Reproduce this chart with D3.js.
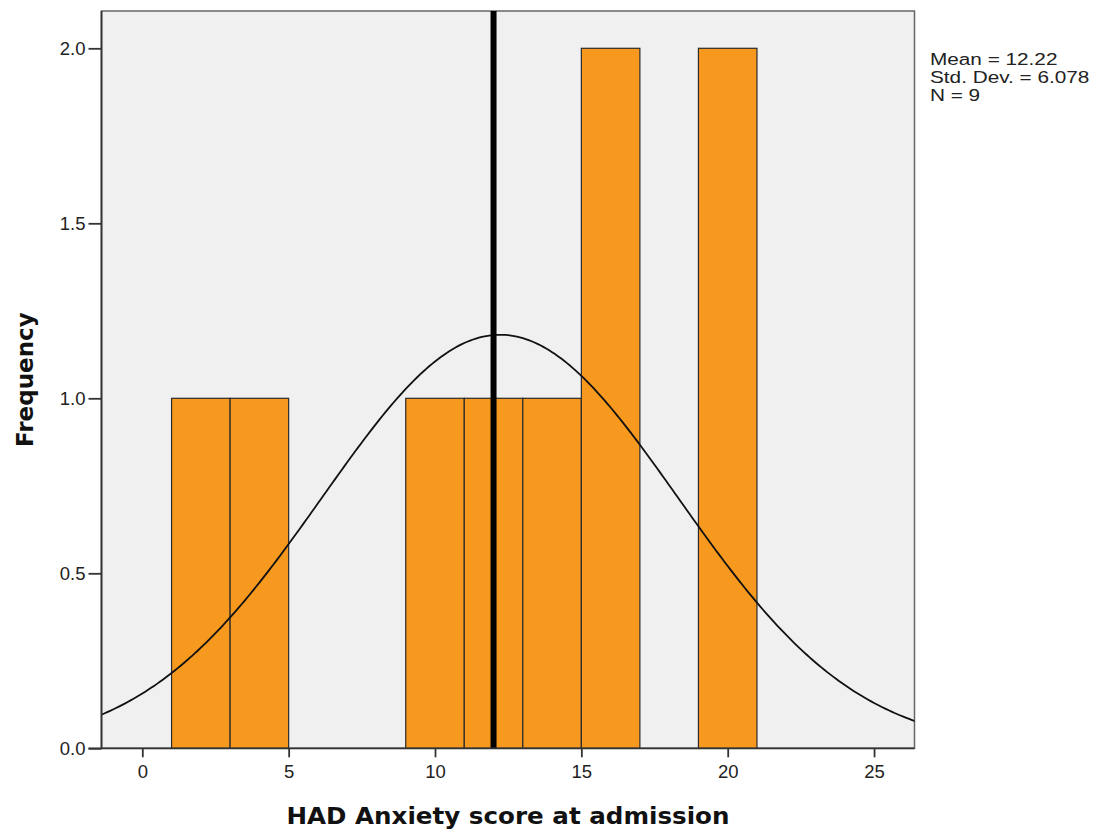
<!DOCTYPE html>
<html>
<head>
<meta charset="utf-8">
<script src="https://cdn.jsdelivr.net/npm/d3@7"></script>
<style>
  body { margin: 0; background: #fff; }
</style>
</head>
<body>
<div id="chart"></div>
<script>
// bins of 2 score points: [x0, x1), count
const binStarts = [1, 3, 9, 11, 13, 15, 19];
const binEnds = [3, 5, 11, 13, 15, 17, 21];
const binCounts = [1, 1, 1, 1, 1, 2, 2];
const xTicks = [0, 5, 10, 15, 20, 25];
const yTicks = [0, 0.5, 1.0, 1.5, 2.0];
const statLines = ["Mean = 12.22", "Std. Dev. = 6.078", "N = 9"];
const mean = 12.22;
const sd = 6.078;
const n = 9;
const binWidth = 2;
const refLine = 12;

const width = 1100;
const height = 834;
const plot = { left: 101.5, right: 914.5, top: 11, bottom: 748.3 };

const svg = d3.select("#chart")
    .append("svg")
    .attr("width", width)
    .attr("height", height);

const x = d3.scaleLinear().domain([0, 25]).range([142.3, 142.3 + 25 * 29.27]);
const y = d3.scaleLinear().domain([0, 2]).range([plot.bottom, plot.bottom - 700]);

svg.append("defs").append("clipPath").attr("id", "clip")
    .append("rect")
    .attr("x", plot.left).attr("y", plot.top)
    .attr("width", plot.right - plot.left).attr("height", plot.bottom - plot.top);

svg.append("rect")
    .attr("x", plot.left).attr("y", plot.top)
    .attr("width", plot.right - plot.left).attr("height", plot.bottom - plot.top)
    .attr("fill", "#f0f0f0")
    .attr("stroke", "#666")
    .attr("stroke-width", 1.5);

const bins = binStarts.map((s, i) => ({ x0: s, x1: binEnds[i], count: binCounts[i] }));

svg.append("g").selectAll("rect")
    .data(bins)
    .join("rect")
    .attr("x", d => x(d.x0))
    .attr("y", d => y(d.count))
    .attr("width", d => x(d.x1) - x(d.x0))
    .attr("height", d => y(0) - y(d.count))
    .attr("fill", "#f7981f")
    .attr("stroke", "#2b2b2b")
    .attr("stroke-width", 1.2);

// fitted normal curve
const curvePts = d3.range(-2, 27.01, 0.1).map(v => [v,
    n * binWidth * Math.exp(-0.5 * ((v - mean) / sd) ** 2) / (sd * Math.sqrt(2 * Math.PI))]);

svg.append("path")
    .attr("clip-path", "url(#clip)")
    .attr("d", d3.line().x(d => x(d[0])).y(d => y(d[1]))(curvePts))
    .attr("fill", "none")
    .attr("stroke", "#111")
    .attr("stroke-width", 1.8);

svg.append("line")
    .attr("x1", x(refLine)).attr("x2", x(refLine))
    .attr("y1", plot.top).attr("y2", plot.bottom)
    .attr("stroke", "#000")
    .attr("stroke-width", 6);

// axes
const xAxis = svg.append("g")
    .attr("transform", `translate(0,${plot.bottom})`)
    .call(d3.axisBottom(x).tickValues(xTicks).tickSize(9).tickPadding(8).tickFormat(d3.format("d")));
const yAxis = svg.append("g")
    .attr("transform", `translate(${plot.left},0)`)
    .call(d3.axisLeft(y).tickValues(yTicks).tickSize(13).tickPadding(3).tickFormat(d3.format(".1f")));

[xAxis, yAxis].forEach(a => {
    a.select(".domain").remove();
    a.selectAll("line").attr("stroke", "#333").attr("stroke-width", 1.8);
    a.selectAll("text")
        .attr("font-family", "Liberation Sans, Arial, sans-serif")
        .attr("font-size", 18.5)
        .attr("fill", "#222");
});

svg.append("line")
    .attr("x1", plot.left - 13).attr("x2", plot.right)
    .attr("y1", plot.bottom).attr("y2", plot.bottom)
    .attr("stroke", "#333").attr("stroke-width", 1.8);
svg.append("line")
    .attr("x1", plot.left).attr("x2", plot.left)
    .attr("y1", plot.top).attr("y2", plot.bottom)
    .attr("stroke", "#333").attr("stroke-width", 1.8);

svg.append("text")
    .attr("x", (plot.left + plot.right) / 2)
    .attr("y", 823.5)
    .attr("text-anchor", "middle")
    .attr("font-family", "DejaVu Sans, sans-serif")
    .attr("font-weight", "bold")
    .attr("font-size", 23)
    .attr("textLength", 443)
    .attr("lengthAdjust", "spacingAndGlyphs")
    .attr("fill", "#111")
    .text("HAD Anxiety score at admission");

svg.append("text")
    .attr("transform", `translate(33,${(plot.top + plot.bottom) / 2}) rotate(-90)`)
    .attr("text-anchor", "middle")
    .attr("font-family", "DejaVu Sans, sans-serif")
    .attr("font-weight", "bold")
    .attr("font-size", 23)
    .attr("fill", "#111")
    .text("Frequency");

svg.append("g")
    .attr("transform", "translate(930,0) scale(1.2,1)")
    .selectAll("text")
    .data(statLines)
    .join("text")
    .attr("x", 0)
    .attr("y", (d, i) => 65 + i * 18)
    .attr("font-family", "Liberation Sans, Arial, sans-serif")
    .attr("font-size", 17.3)
    .attr("fill", "#222")
    .text(d => d);
</script>
</body>
</html>
